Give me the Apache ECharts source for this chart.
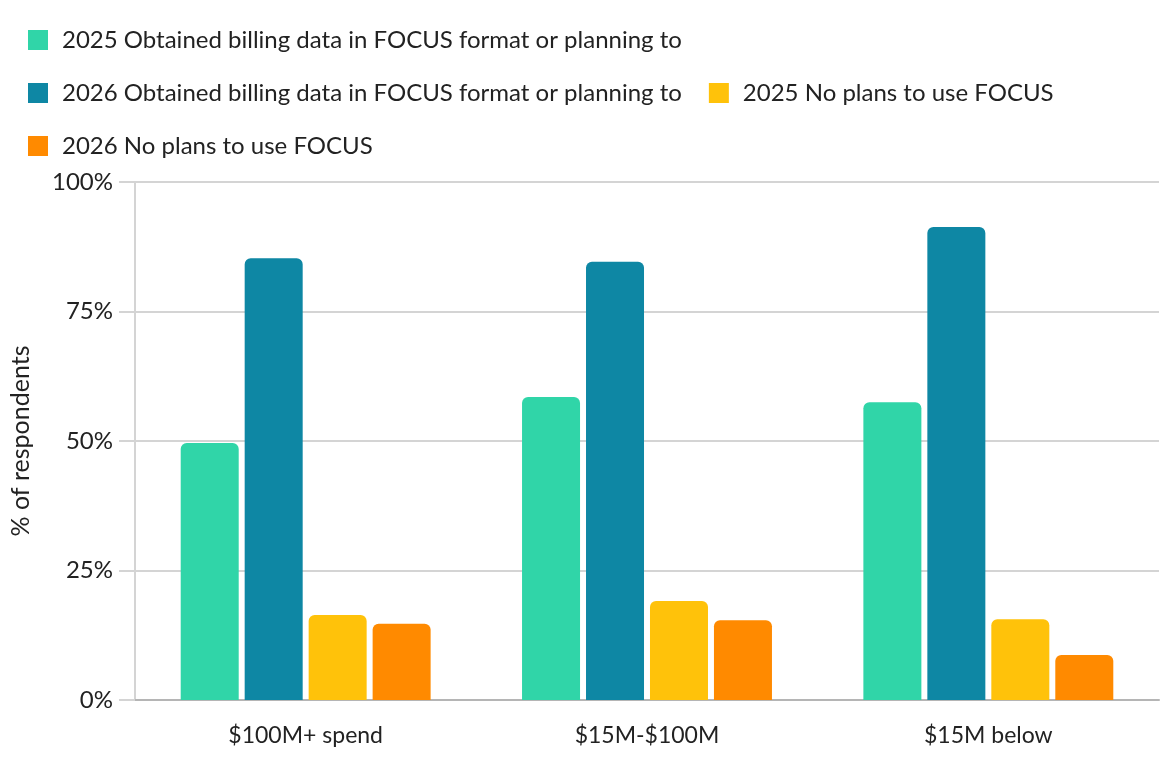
<!DOCTYPE html>
<html>
<head>
<meta charset="utf-8">
<script src="https://cdn.jsdelivr.net/npm/echarts@6/dist/echarts.min.js"></script>
<style>html,body{margin:0;padding:0;background:#fff}#c{width:1160px;height:760px}</style>
</head>
<body>
<div id="c"></div>
<script>
const categories = ['$100M+ spend', '$15M-$100M', '$15M below'];
const seriesNames = [
  '2025 Obtained billing data in FOCUS format or planning to',
  '2026 Obtained billing data in FOCUS format or planning to',
  '2025 No plans to use FOCUS',
  '2026 No plans to use FOCUS'
];
const obtained2025 = [49.6, 58.5, 57.5];
const obtained2026 = [85.3, 84.6, 91.3];
const noPlans2025 = [16.4, 19.1, 15.6];
const noPlans2026 = [14.7, 15.4, 8.7];
const yTicks = [0, 25, 50, 75, 100];
const colors = ['#30D5A8', '#0E87A4', '#FFC20A', '#FF8A00'];

const FONT = 'Lato';
const values = [obtained2025, obtained2026, noPlans2025, noPlans2026];

const chart = echarts.init(document.getElementById('c'), null, {renderer: 'canvas'});
chart.setOption({
  animation: false,
  color: colors,
  textStyle: {fontFamily: FONT},
  legend: {
    left: 28, top: 27, width: 1120,
    padding: 0,
    orient: 'horizontal',
    itemWidth: 20, itemHeight: 20,
    itemGap: 27,
    icon: 'rect',
    textStyle: {fontFamily: FONT, fontSize: 24, color: '#222', lineHeight: 26, padding: [0, 0, 0, 9]},
    data: seriesNames
  },
  grid: {left: 135, right: 1, top: 182, bottom: 60, containLabel: false},
  xAxis: {
    type: 'category',
    data: categories,
    axisLine: {show: true, lineStyle: {color: '#b5b5b5', width: 2}},
    axisTick: {show: false},
    axisLabel: {fontFamily: FONT, fontSize: 23, color: '#222', margin: 24}
  },
  yAxis: {
    type: 'value',
    min: 0, max: 100, interval: 25,
    name: '% of respondents',
    nameLocation: 'middle',
    nameGap: 102,
    nameTextStyle: {fontFamily: FONT, fontSize: 25, color: '#222'},
    axisLine: {show: true, lineStyle: {color: '#d4d4d4', width: 2}},
    axisTick: {show: true, length: 16, lineStyle: {color: '#d4d4d4', width: 2}},
    axisLabel: {fontFamily: FONT, fontSize: 24, color: '#222', margin: 22,
      formatter: v => yTicks.includes(v) ? v + '%' : ''},
    splitLine: {show: true, lineStyle: {color: '#d4d4d4', width: 2}}
  },
  series: seriesNames.map((n, i) => ({
    name: n,
    type: 'bar',
    data: values[i],
    barWidth: 58,
    barGap: '10.3%',
    itemStyle: {borderRadius: [6, 6, 0, 0]}
  }))
});
</script>
</body>
</html>
